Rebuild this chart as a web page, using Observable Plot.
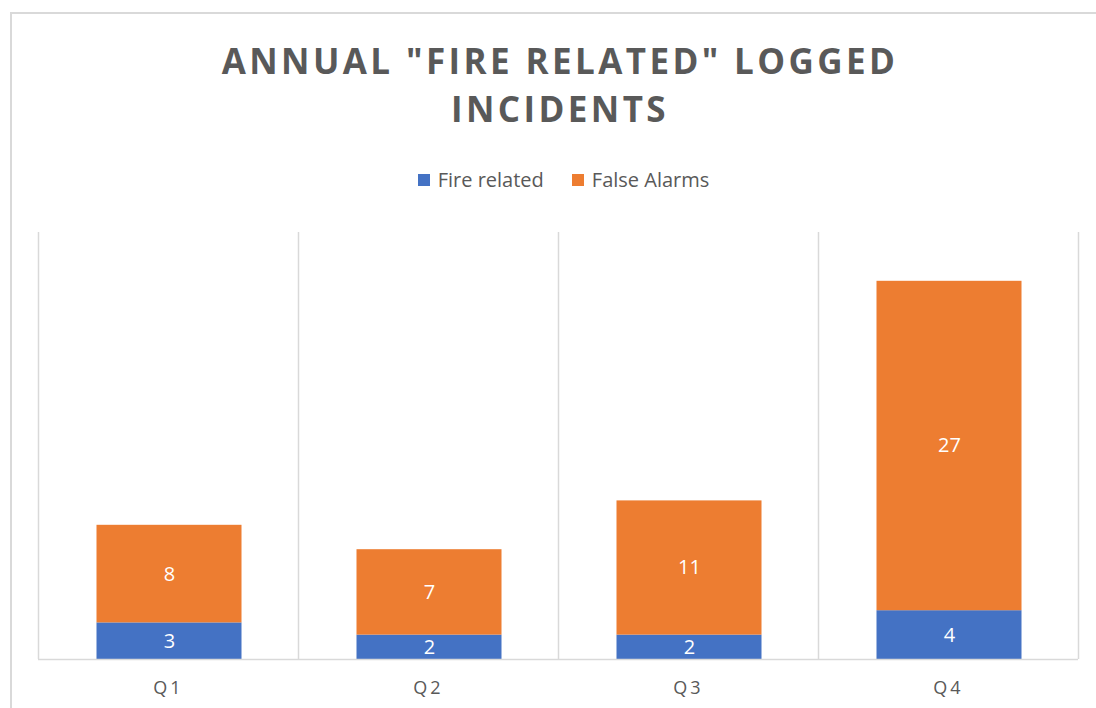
<!DOCTYPE html>
<html><head><meta charset="utf-8">
<script src="https://cdn.jsdelivr.net/npm/d3@7"></script>
<script src="https://cdn.jsdelivr.net/npm/@observablehq/plot@0.6"></script>
<style>
html,body{margin:0;padding:0;background:#fff;}
body{width:1096px;height:708px;overflow:hidden;position:relative;font-family:"Open Sans",sans-serif;}
#frame{position:absolute;left:10px;top:12px;width:1110px;height:720px;border:2px solid #d9d9d9;box-sizing:border-box;}
#title{position:absolute;left:0;top:37px;width:1120px;text-align:center;font-weight:bold;font-size:35px;letter-spacing:3.4px;color:#595959;line-height:48px;}
#legend{position:absolute;left:0;top:166px;width:1127px;display:flex;justify-content:center;align-items:center;font-size:20px;color:#595959;}
.item{display:flex;align-items:center;margin:0 14px;}
.sw{width:12px;height:12px;margin-right:8px;}
#chart{position:absolute;left:0;top:212px;}
#chart g[aria-label="x-axis tick label"] text{letter-spacing:3px;}
</style>
</head><body>
<div id="frame"></div>
<div id="title"></div>
<div id="legend"></div>
<div id="chart"></div>
<script>
const quarters = ["Q1", "Q2", "Q3", "Q4"];
const seriesNames = ["Fire related", "False Alarms"];
const fireRelated = [3, 2, 2, 4];
const falseAlarms = [8, 7, 11, 27];
const seriesColors = ["#4472C4", "#ED7D31"];
const titleLines = ['ANNUAL "FIRE RELATED" LOGGED', 'INCIDENTS'];

const rows = [];
quarters.forEach((q, i) => rows.push({quarter: q, series: seriesNames[0], value: fireRelated[i]}));
quarters.forEach((q, i) => rows.push({quarter: q, series: seriesNames[1], value: falseAlarms[i]}));

document.getElementById("title").innerHTML = titleLines.map(t => `<div>${t.replace(/"/g, "&quot;")}</div>`).join("");
document.getElementById("legend").innerHTML = seriesNames.map((s, i) =>
  `<div class="item"><div class="sw" style="background:${seriesColors[i]}"></div><span>${s}</span></div>`).join("");

const W = 1096, mL = 38, mR = 18;
const step = (W - mL - mR) / quarters.length;
const grid = "#d9d9d9";

const chart = Plot.plot({
  width: W,
  height: 496,
  marginTop: 20,
  marginBottom: 49,
  marginLeft: mL,
  marginRight: mR,
  style: {fontFamily: "Open Sans", fontSize: "18px", color: "#595959", background: "transparent"},
  x: {domain: quarters, padding: 0, label: null, tickSize: 0, tickPadding: 22},
  y: {domain: [0, 35], axis: null},
  color: {domain: seriesNames, range: seriesColors},
  marks: [
    Plot.ruleX(quarters, {x: d => d, dx: -step / 2, stroke: grid, strokeWidth: 1.5}),
    Plot.ruleX(quarters.slice(-1), {x: d => d, dx: step / 2, stroke: grid, strokeWidth: 1.5}),
    Plot.barY(rows, {x: "quarter", y: "value", fill: "series", insetLeft: 58.5, insetRight: 56.5}),
    Plot.ruleY([0], {stroke: grid, strokeWidth: 1.5}),
    Plot.text(rows, Plot.stackY({x: "quarter", y: "value", text: d => String(d.value), fill: "white", fontSize: 20, dx: 1}))
  ]
});
document.getElementById("chart").appendChild(chart);
</script>
</body></html>
